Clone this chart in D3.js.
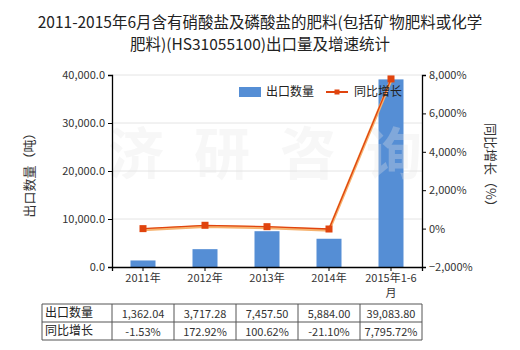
<!DOCTYPE html>
<html><head><meta charset="utf-8">
<script src="https://cdn.jsdelivr.net/npm/d3@7"></script>
<style>body{margin:0;background:#fff}svg{display:block}text{font-family:"Noto Sans CJK SC","Noto Sans",sans-serif}</style>
</head><body><svg id="c" width="520" height="350"></svg>
<script>
const categories = ["2011年","2012年","2013年","2014年","2015年1-6月"];
const categoryLines = [["2011年"],["2012年"],["2013年"],["2014年"],["2015年1-6","月"]];
const exportQty = [1362.04, 3717.28, 7457.50, 5884.00, 39083.80];
const growthPct = [-1.53, 172.92, 100.62, -21.10, 7795.72];
const qtyLabels = ["1,362.04","3,717.28","7,457.50","5,884.00","39,083.80"];
const growthLabels = ["-1.53%","172.92%","100.62%","-21.10%","7,795.72%"];
const leftTicks = [0,10000,20000,30000,40000];
const rightTicks = [-2000,0,2000,4000,6000,8000];
const titleLines = ["2011-2015年6月含有硝酸盐及磷酸盐的肥料(包括矿物肥料或化学","肥料)(HS31055100)出口量及增速统计"];
const seriesNames = ["出口数量","同比增长"];
const watermarkChars = ["济","研","咨","询"];

const svg = d3.select("#c");
const L=112, R=422, T=75, B=267;
const x = d3.scaleBand().domain(categories).range([L,R]);
const yL = d3.scaleLinear().domain([0,40000]).range([B,T]);
const yR = d3.scaleLinear().domain([-2000,8000]).range([B,T]);
const barColor="#558ed5", lineColor="#e0440e";

// title
svg.append("g").selectAll("text").data(titleLines).join("text")
  .attr("x",260).attr("y",(d,i)=>27.5+i*22.5).attr("text-anchor","middle")
  .attr("font-size",15.5).attr("fill","#222").text(d=>d);

// grid
svg.append("g").selectAll("line").data(leftTicks.filter(d=>d>0)).join("line")
  .attr("x1",L).attr("x2",R).attr("y1",d=>yL(d)).attr("y2",d=>yL(d))
  .attr("stroke","#e4e4e4").attr("stroke-width",1);

// bars
svg.append("g").selectAll("rect").data(exportQty).join("rect")
  .attr("x",(d,i)=>x(categories[i])+x.bandwidth()/2-12.5).attr("width",25)
  .attr("y",d=>yL(d)).attr("height",d=>B-yL(d)).attr("fill",barColor);

// watermark (drawn over bars, faint)
svg.append("g").selectAll("text").data(watermarkChars).join("text")
  .attr("x",(d,i)=>136+i*86).attr("y",174).attr("text-anchor","middle")
  .attr("font-size",56).attr("font-weight","bold").attr("fill","#e6e6e6").attr("opacity",0.3)
  .text(d=>d);

// axes
const axL = svg.append("g").attr("transform",`translate(${L},0)`)
  .call(d3.axisLeft(yL).tickValues(leftTicks).tickFormat(d3.format(",.1f")).tickSize(4).tickPadding(3));
const axR = svg.append("g").attr("transform",`translate(${R},0)`)
  .call(d3.axisRight(yR).tickValues(rightTicks).tickFormat(d=>d3.format(",")(d)+"%").tickSize(4).tickPadding(3));
const axB = svg.append("g").attr("transform",`translate(0,${B})`)
  .call(d3.axisBottom(x).tickSize(4).tickFormat(""));
[axL,axR,axB].forEach(a=>{
  a.select(".domain").attr("stroke","#000").attr("stroke-width",1.3);
  a.selectAll(".tick line").attr("stroke","#000");
  a.selectAll("text").attr("font-size",11).attr("fill","#333").attr("font-family",'"Noto Sans CJK SC","Noto Sans",sans-serif');
});
const catG = svg.append("g");
categoryLines.forEach((lines,i)=>{
  lines.forEach((t,j)=>{
    catG.append("text").attr("x",x(categories[i])+x.bandwidth()/2).attr("y",282+j*15)
      .attr("text-anchor","middle").attr("font-size",11).attr("fill","#333").text(t);
  });
});

// axis titles
svg.append("text").attr("transform","translate(34,172) rotate(-90)").attr("text-anchor","middle")
  .attr("font-size",13).attr("fill","#333").text("出口数量（吨）");
svg.append("text").attr("transform","translate(486,168) rotate(90)").attr("text-anchor","middle")
  .attr("font-size",13).attr("fill","#333").text("同比增长（%）");

// line
const line = d3.line().x((d,i)=>x(categories[i])+x.bandwidth()/2).y(d=>yR(d));
svg.append("path").datum(growthPct).attr("d",line).attr("fill","none")
  .attr("stroke","#f6b26e").attr("stroke-width",3).attr("transform","translate(0,1.2)");
svg.append("path").datum(growthPct).attr("d",line).attr("fill","none")
  .attr("stroke",lineColor).attr("stroke-width",1.3);
svg.append("g").selectAll("rect").data(growthPct).join("rect")
  .attr("x",(d,i)=>x(categories[i])+x.bandwidth()/2-3.5).attr("y",d=>yR(d)-3.5)
  .attr("width",7).attr("height",7).attr("fill",lineColor);

// legend
const lg = svg.append("g");
lg.append("rect").attr("x",239).attr("y",87).attr("width",22).attr("height",10).attr("fill",barColor);
lg.append("text").attr("x",266).attr("y",96).attr("font-size",12).attr("fill","#222").text(seriesNames[0]);
lg.append("line").attr("x1",326).attr("x2",348).attr("y1",92).attr("y2",92).attr("stroke",lineColor).attr("stroke-width",2);
lg.append("rect").attr("x",334.5).attr("y",89.5).attr("width",5).attr("height",5).attr("fill",lineColor);
lg.append("text").attr("x",354).attr("y",96).attr("font-size",12).attr("fill","#222").text(seriesNames[1]);

// table
const rowsTop=304, rowH=18, tL=42;
const tbl = svg.append("g");
const rows=[{name:seriesNames[0],vals:qtyLabels},{name:seriesNames[1],vals:growthLabels}];
const colEdges=[tL].concat(categories.map(c=>x(c))).concat([R]);
rows.forEach((r,ri)=>{
  const yy=rowsTop+ri*rowH;
  tbl.append("text").attr("x",tL+3).attr("y",yy+13).attr("font-size",12).attr("fill","#222").text(r.name);
  r.vals.forEach((v,i)=>{
    tbl.append("text").attr("x",x(categories[i])+x.bandwidth()/2).attr("y",yy+14)
      .attr("text-anchor","middle").attr("font-size",11).attr("fill","#333").text(v);
  });
});
[0,1,2].forEach(i=>tbl.append("line").attr("x1",tL).attr("x2",R).attr("y1",rowsTop+i*rowH).attr("y2",rowsTop+i*rowH).attr("stroke","#555"));
colEdges.forEach(cx=>tbl.append("line").attr("x1",cx).attr("x2",cx).attr("y1",rowsTop).attr("y2",rowsTop+2*rowH).attr("stroke","#555"));
</script></body></html>
